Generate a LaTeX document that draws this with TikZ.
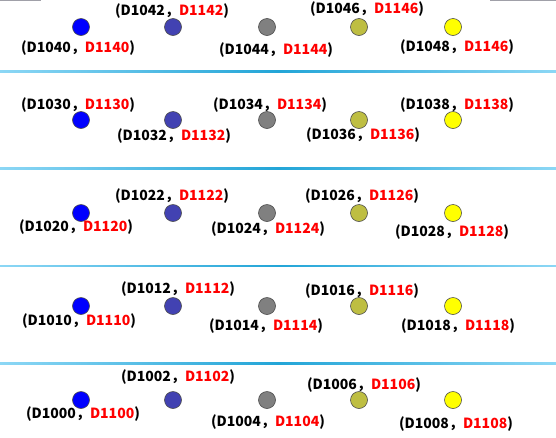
\documentclass[tikz,border=0pt]{standalone}
\usepackage{fontspec}
\newfontfamily\lblfont{Noto Sans CJK SC}
\usetikzlibrary{positioning}
\definecolor{lampA}{RGB}{0,0,255}
\definecolor{lampB}{RGB}{66,66,178}
\definecolor{lampC}{RGB}{128,128,128}
\definecolor{lampD}{RGB}{190,190,66}
\definecolor{lampE}{RGB}{255,255,0}
\definecolor{addrred}{RGB}{255,0,0}
\definecolor{sepedge}{RGB}{140,215,245}
\definecolor{sepmid}{RGB}{35,165,215}
\definecolor{topgray}{RGB}{160,160,168}
\newcommand\pair[2]{(#1，\textcolor{addrred}{#2})}

\begin{document}
\begin{tikzpicture}[
  x=1pt, y=-1pt,
  lamp/.style={circle, draw=black!70, line width=0.6pt, minimum size=17pt, inner sep=0pt},
  addr/.style={font=\lblfont\bfseries\fontsize{14}{16}\selectfont, inner sep=0pt},
  sepline/.style={left color=sepedge, right color=sepedge, middle color=sepmid}
]
\useasboundingbox (0,0) rectangle (556,437);
\fill[white] (0,0) rectangle (556,437);
\draw[topgray, line width=1.2pt] (0,0.6) -- (41,0.6);
\draw[topgray, line width=1.2pt] (490,0.6) -- (556,0.6);

\shade[sepline] (0,70.6) rectangle (556,72.2);
\shade[sepline] (0,167.6) rectangle (556,169.2);
\shade[sepline] (0,265.2) rectangle (556,266.8);
\shade[sepline] (0,362.8) rectangle (556,364.4);

\node[lamp, fill=lampA] (c40) at (81,27) {};
\node[lamp, fill=lampB] (c42) at (173,27) {};
\node[lamp, fill=lampC] (c44) at (267,27) {};
\node[lamp, fill=lampD] (c46) at (359,27) {};
\node[lamp, fill=lampE] (c48) at (453,27) {};
\node[addr] (l40) at (78,48) {\pair{D1040}{D1140}};
\node[addr] (l42) at (172,11) {\pair{D1042}{D1142}};
\node[addr] (l44) at (276,50) {\pair{D1044}{D1144}};
\node[addr] (l46) at (367,9) {\pair{D1046}{D1146}};
\node[addr] (l48) at (457,47) {\pair{D1048}{D1146}};

\node[lamp, fill=lampA] (c30) at (81,120) {};
\node[lamp, fill=lampB] (c32) at (173,120) {};
\node[lamp, fill=lampC] (c34) at (267,120) {};
\node[lamp, fill=lampD] (c36) at (359,120) {};
\node[lamp, fill=lampE] (c38) at (453,120) {};
\node[addr] (l30) at (78,105) {\pair{D1030}{D1130}};
\node[addr] (l32) at (174,136) {\pair{D1032}{D1132}};
\node[addr] (l34) at (270,105) {\pair{D1034}{D1134}};
\node[addr] (l36) at (363,135) {\pair{D1036}{D1136}};
\node[addr] (l38) at (457,105) {\pair{D1038}{D1138}};

\node[lamp, fill=lampA] (c20) at (81,213) {};
\node[lamp, fill=lampB] (c22) at (173,213) {};
\node[lamp, fill=lampC] (c24) at (267,213) {};
\node[lamp, fill=lampD] (c26) at (359,213) {};
\node[lamp, fill=lampE] (c28) at (453,213) {};
\node[addr] (l20) at (76,227) {\pair{D1020}{D1120}};
\node[addr] (l22) at (172,196) {\pair{D1022}{D1122}};
\node[addr] (l24) at (268,229) {\pair{D1024}{D1124}};
\node[addr] (l26) at (362,196) {\pair{D1026}{D1126}};
\node[addr] (l28) at (452,232) {\pair{D1028}{D1128}};

\node[lamp, fill=lampA] (c10) at (81,306) {};
\node[lamp, fill=lampB] (c12) at (173,306) {};
\node[lamp, fill=lampC] (c14) at (267,306) {};
\node[lamp, fill=lampD] (c16) at (359,306) {};
\node[lamp, fill=lampE] (c18) at (453,306) {};
\node[addr] (l10) at (79,321) {\pair{D1010}{D1110}};
\node[addr] (l12) at (178,289) {\pair{D1012}{D1112}};
\node[addr] (l14) at (266,326) {\pair{D1014}{D1114}};
\node[addr] (l16) at (362,291) {\pair{D1016}{D1116}};
\node[addr] (l18) at (458,326) {\pair{D1018}{D1118}};

\node[lamp, fill=lampA] (c00) at (81,400) {};
\node[lamp, fill=lampB] (c02) at (173,400) {};
\node[lamp, fill=lampC] (c04) at (267,400) {};
\node[lamp, fill=lampD] (c06) at (359,400) {};
\node[lamp, fill=lampE] (c08) at (453,400) {};
\node[addr] (l00) at (83,414) {\pair{D1000}{D1100}};
\node[addr] (l02) at (178,377) {\pair{D1002}{D1102}};
\node[addr] (l04) at (268,422) {\pair{D1004}{D1104}};
\node[addr] (l06) at (364,385) {\pair{D1006}{D1106}};
\node[addr] (l08) at (456,424) {\pair{D1008}{D1108}};
\end{tikzpicture}
\end{document}
